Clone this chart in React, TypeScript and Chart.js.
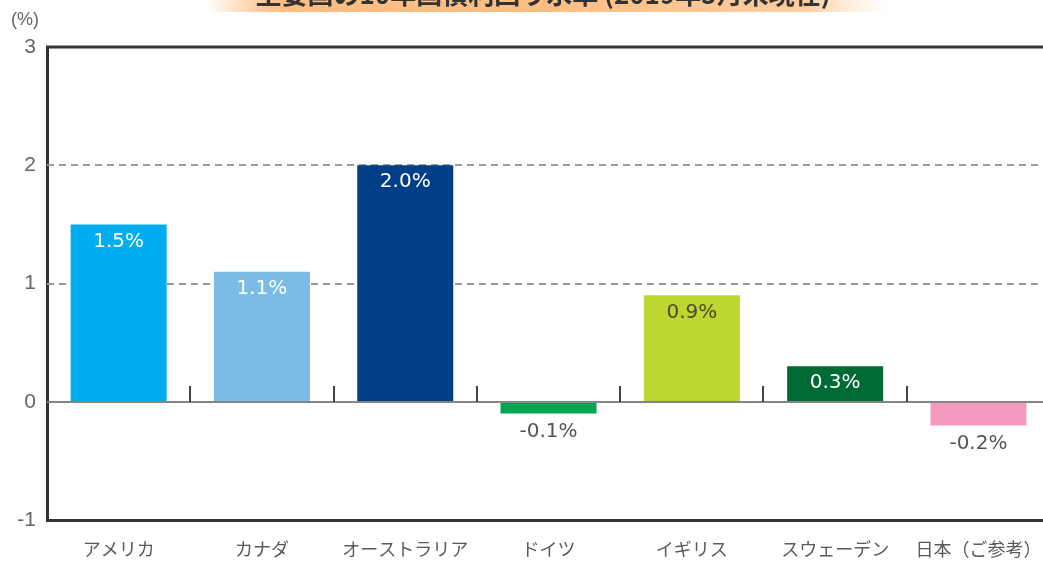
import React, { useEffect, useRef } from "react";
import { Chart, registerables } from "chart.js";

Chart.register(...registerables);

const categories = ["アメリカ", "カナダ", "オーストラリア", "ドイツ", "イギリス", "スウェーデン", "日本（ご参考）"];
const values = [1.5, 1.1, 2.0, -0.1, 0.9, 0.3, -0.2];
const barColors = ["#00AEEF", "#7ABCE6", "#003F88", "#00A650", "#BED730", "#006A35", "#F49AC0"];
const labelColors = ["#ffffff", "#ffffff", "#ffffff", "#555555", "#4a4a2a", "#ffffff", "#555555"];
const yTicks = [-1, 0, 1, 2, 3];
const titleText = "主要国の10年国債利回り水準 (2019年5月末現在)";
const unitText = "(%)";

const decorPlugin = {
  id: "decor",
  beforeDraw(chart: any) {
    const ctx = chart.ctx;
    ctx.save();
    // title band
    const g = ctx.createLinearGradient(205, 0, 890, 0);
    g.addColorStop(0, "rgba(253,184,120,0)");
    g.addColorStop(0.1, "rgba(253,184,120,0.9)");
    g.addColorStop(0.5, "rgba(253,190,130,1)");
    g.addColorStop(0.88, "rgba(253,200,150,0.9)");
    g.addColorStop(1, "rgba(255,230,210,0)");
    ctx.fillStyle = g;
    ctx.fillRect(205, 0, 685, 12);
    ctx.fillStyle = "#333333";
    ctx.font = "bold 26px 'Noto Sans CJK JP'";
    ctx.textAlign = "center";
    ctx.textBaseline = "alphabetic";
    ctx.fillText(titleText, 543, 4);
    // unit
    ctx.fillStyle = "#666666";
    ctx.font = "18px 'Liberation Sans'";
    ctx.textAlign = "left";
    ctx.textBaseline = "middle";
    ctx.fillText(unitText, 11, 20);
    ctx.restore();
  },
  beforeDatasetsDraw(chart: any) {
    const ctx = chart.ctx;
    const area = chart.chartArea;
    const y = chart.scales.y;
    ctx.save();
    ctx.strokeStyle = "#9a9a9a";
    ctx.lineWidth = 2;
    ctx.setLineDash([7, 5]);
    yTicks.forEach((v) => {
      if (v === 1 || v === 2) {
        const py = Math.round(y.getPixelForValue(v));
        ctx.beginPath();
        ctx.moveTo(area.left, py);
        ctx.lineTo(area.right, py);
        ctx.stroke();
      }
    });
    ctx.restore();
  },
  afterDatasetsDraw(chart: any) {
    const ctx = chart.ctx;
    const area = chart.chartArea;
    const y = chart.scales.y;
    const x = chart.scales.x;
    const zy = Math.round(y.getPixelForValue(0));
    ctx.save();
    // zero line
    ctx.strokeStyle = "#858585";
    ctx.lineWidth = 2;
    ctx.beginPath();
    ctx.moveTo(area.left, zy);
    ctx.lineTo(area.right, zy);
    ctx.stroke();
    // category boundary ticks
    ctx.strokeStyle = "#444444";
    ctx.lineWidth = 2;
    for (let i = 0; i < categories.length - 1; i++) {
      const bx = Math.round((x.getPixelForValue(i) + x.getPixelForValue(i + 1)) / 2);
      ctx.beginPath();
      ctx.moveTo(bx, zy - 16);
      ctx.lineTo(bx, zy);
      ctx.stroke();
    }
    // top frame
    ctx.strokeStyle = "#333333";
    ctx.lineWidth = 3;
    ctx.beginPath();
    ctx.moveTo(area.left - 1, area.top);
    ctx.lineTo(area.right, area.top);
    ctx.stroke();
    // value labels
    const meta = chart.getDatasetMeta(0);
    ctx.font = "20px 'DejaVu Sans'";
    ctx.textAlign = "center";
    ctx.textBaseline = "middle";
    meta.data.forEach((el: any, i: number) => {
      const v = values[i];
      const ty = v >= 0 ? el.y + 17 : el.y + 18;
      ctx.fillStyle = labelColors[i];
      ctx.fillText(v.toFixed(1) + "%", el.x, ty);
    });
    ctx.restore();
  },
};

export default function App() {
  const ref = useRef<HTMLCanvasElement | null>(null);
  useEffect(() => {
    if (!ref.current) return;
    const chart = new Chart(ref.current, {
      type: "bar",
      data: {
        labels: categories,
        datasets: [
          {
            data: values,
            backgroundColor: barColors,
            borderWidth: 0,
            barPercentage: 0.67,
            categoryPercentage: 1,
          },
        ],
      },
      options: {
        responsive: false,
        animation: false,
        devicePixelRatio: 1,
        layout: { padding: { top: 47, left: 0, right: 8, bottom: 0 } },
        plugins: { legend: { display: false }, tooltip: { enabled: false }, title: { display: false } },
        scales: {
          x: {
            grid: { display: false, drawTicks: false },
            border: { display: true, color: "#333333", width: 3 },
            ticks: { color: "#5a5a5a", font: { family: "'Noto Sans CJK JP'", size: 18 }, padding: 18, maxRotation: 0, autoSkip: false },
            afterFit: (s: any) => { s.height = 43; },
          },
          y: {
            min: -1,
            max: 3,
            grid: { display: false, drawTicks: false },
            border: { display: true, color: "#333333", width: 3 },
            ticks: {
              stepSize: 1,
              color: "#666666",
              padding: 11,
              font: { family: "'Liberation Sans'", size: 21 },
            },
            afterFit: (s: any) => { s.width = 47; },
          },
        },
      },
      plugins: [decorPlugin],
    });
    return () => chart.destroy();
  }, []);
  return (
    <div style={{ position: "fixed", left: 0, top: 0, width: 1043, height: 563, overflow: "hidden", background: "#fff" }}>
      <canvas ref={ref} width={1060} height={563} style={{ display: "block", width: 1060, height: 563 }} />
    </div>
  );
}
